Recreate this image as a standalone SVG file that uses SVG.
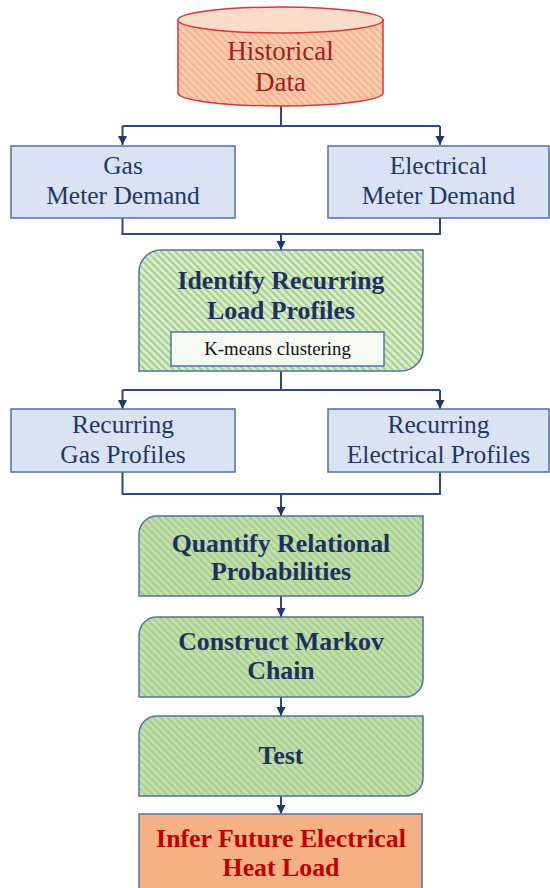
<svg xmlns="http://www.w3.org/2000/svg" width="550" height="888" viewBox="0 0 550 888">
  <defs>
    <pattern id="hatchOrange" width="5" height="5" patternUnits="userSpaceOnUse" patternTransform="rotate(-45)">
      <rect width="5" height="5" fill="#F9CDB0"/>
      <rect width="2" height="5" fill="#F5B48E"/>
    </pattern>
    <pattern id="hatchGreenLight" width="5" height="5" patternUnits="userSpaceOnUse" patternTransform="rotate(-45)">
      <rect width="5" height="5" fill="#DCEDD0"/>
      <rect width="2.2" height="5" fill="#A8D08C"/>
    </pattern>
    <pattern id="hatchGreen" width="5" height="5" patternUnits="userSpaceOnUse" patternTransform="rotate(-45)">
      <rect width="5" height="5" fill="#C3E0AE"/>
      <rect width="2.2" height="5" fill="#A9D08F"/>
    </pattern>
    <marker id="arrow" markerUnits="userSpaceOnUse" markerWidth="10" markerHeight="10" refX="9" refY="5" orient="auto">
      <path d="M0,0.5 L9,5 L0,9.5 Z" fill="#1F3864"/>
    </marker>
  </defs>
  <style>
    .box { fill: #DAE3F3; stroke: #5172A8; stroke-width: 1.5; }
    .step { stroke: #5172A8; stroke-width: 1.5; }
    .txt { font-family: "Liberation Serif", "Times New Roman", serif; font-size: 25.5px; fill: #1F3864; text-anchor: middle; }
    .bold { font-family: "Liberation Serif", "Times New Roman", serif; font-size: 25.8px; font-weight: bold; fill: #1F2F5F; text-anchor: middle; }
    .red { fill: #C00000; }
    .store { font-family: "Liberation Serif", "Times New Roman", serif; font-size: 27px; fill: #A51D1D; text-anchor: middle; }
    .small { font-family: "Liberation Serif", "Times New Roman", serif; font-size: 18.8px; fill: #111111; text-anchor: middle; }
    .conn { fill: none; stroke: #2E4A80; stroke-width: 2; }
  </style>

  <!-- connectors -->
  <g id="connectors">
    <path class="conn" d="M281,106 V126"/>
    <path class="conn" d="M122.5,126 H440"/>
    <path class="conn" d="M122.5,126 V145" marker-end="url(#arrow)"/>
    <path class="conn" d="M440,126 V145" marker-end="url(#arrow)"/>

    <path class="conn" d="M122.5,218 V234 H440 V218"/>
    <path class="conn" d="M281,234 V250" marker-end="url(#arrow)"/>

    <path class="conn" d="M281,371 V390"/>
    <path class="conn" d="M122.5,390 H440"/>
    <path class="conn" d="M122.5,390 V409" marker-end="url(#arrow)"/>
    <path class="conn" d="M440,390 V409" marker-end="url(#arrow)"/>

    <path class="conn" d="M122.5,472 V494 H440 V472"/>
    <path class="conn" d="M281,494 V516" marker-end="url(#arrow)"/>
    <path class="conn" d="M281,596 V617" marker-end="url(#arrow)"/>
    <path class="conn" d="M281,697 V716" marker-end="url(#arrow)"/>
    <path class="conn" d="M281,796 V814" marker-end="url(#arrow)"/>
  </g>

  <!-- data store -->
  <g id="historical-data">
    <path d="M178,20 V93 A102.5,13 0 0 0 383,93 V20 Z" fill="url(#hatchOrange)" stroke="#D9363E" stroke-width="1.5"/>
    <ellipse cx="280.5" cy="20" rx="102.5" ry="13" fill="#FBDCC8" stroke="#D9363E" stroke-width="1.5"/>
    <text class="store" x="280.5" y="60">Historical</text>
    <text class="store" x="280.5" y="91">Data</text>
  </g>

  <g id="gas-meter">
    <rect class="box" x="11" y="146" width="224" height="72"/>
    <text class="txt" x="123" y="174">Gas</text>
    <text class="txt" x="123" y="204">Meter Demand</text>
  </g>

  <g id="electrical-meter">
    <rect class="box" x="328" y="146" width="221" height="72"/>
    <text class="txt" x="438.5" y="174">Electrical</text>
    <text class="txt" x="438.5" y="204">Meter Demand</text>
  </g>

  <g id="identify-profiles">
    <path class="step" d="M139,272 A22,22 0 0 1 161,250 H423 V349 A22,22 0 0 1 401,371 H139 Z" fill="url(#hatchGreenLight)"/>
    <text class="bold" x="281" y="289">Identify Recurring</text>
    <text class="bold" x="281" y="319">Load Profiles</text>
    <rect x="171" y="332" width="213" height="34" fill="#F5FAF2" stroke="#5172A8" stroke-width="1.5"/>
    <text class="small" x="277.5" y="355">K-means clustering</text>
  </g>

  <g id="gas-profiles">
    <rect class="box" x="11" y="409" width="224" height="63"/>
    <text class="txt" x="123" y="433">Recurring</text>
    <text class="txt" x="123" y="463">Gas Profiles</text>
  </g>

  <g id="electrical-profiles">
    <rect class="box" x="328" y="409" width="221" height="63"/>
    <text class="txt" x="438.5" y="433">Recurring</text>
    <text class="txt" x="438.5" y="463">Electrical Profiles</text>
  </g>

  <g id="quantify">
    <path class="step" d="M139,534 A18,18 0 0 1 157,516 H423 V578 A18,18 0 0 1 405,596 H139 Z" fill="url(#hatchGreen)"/>
    <text class="bold" x="281" y="552">Quantify Relational</text>
    <text class="bold" x="281" y="580">Probabilities</text>
  </g>

  <g id="markov">
    <path class="step" d="M139,635 A18,18 0 0 1 157,617 H423 V679 A18,18 0 0 1 405,697 H139 Z" fill="url(#hatchGreen)"/>
    <text class="bold" x="281" y="650">Construct Markov</text>
    <text class="bold" x="281" y="679">Chain</text>
  </g>

  <g id="test">
    <path class="step" d="M139,734 A18,18 0 0 1 157,716 H423 V778 A18,18 0 0 1 405,796 H139 Z" fill="url(#hatchGreen)"/>
    <text class="bold" x="281" y="764">Test</text>
  </g>

  <g id="infer">
    <rect x="139" y="814" width="283" height="82" fill="#F4B183" stroke="#5172A8" stroke-width="1.5"/>
    <text class="bold red" x="281" y="847">Infer Future Electrical</text>
    <text class="bold red" x="281" y="876">Heat Load</text>
  </g>
</svg>
